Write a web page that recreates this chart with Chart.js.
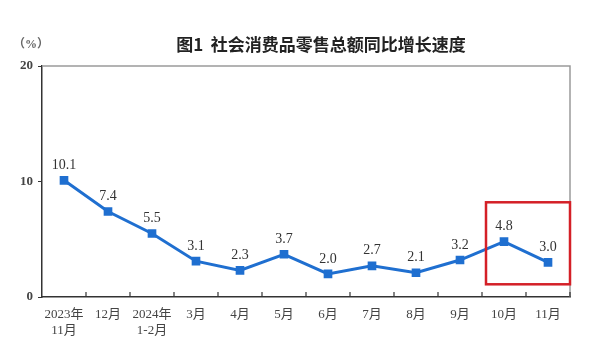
<!DOCTYPE html>
<html lang="zh">
<head>
    <meta charset="UTF-8">
    <title>社会消费品零售总额同比增长速度</title>
    <script src="https://cdn.jsdelivr.net/npm/chart.js"></script>
    <style>
        html, body { margin: 0; padding: 0; background: #fff; }
        .wrap { width: 593px; height: 352px; position: relative; }
    </style>
</head>
<body>
    <div class="wrap">
        <canvas id="myChart" width="593" height="352"></canvas>
    </div>

    <script>
        // data
        const months = [['2023年', '11月'], '12月', ['2024年', '1-2月'], '3月', '4月', '5月', '6月', '7月', '8月', '9月', '10月', '11月'];
        const growth = [10.1, 7.4, 5.5, 3.1, 2.3, 3.7, 2.0, 2.7, 2.1, 3.2, 4.8, 3.0];
        const yTicks = [0, 10, 20];
        const titleText = '图1  社会消费品零售总额同比增长速度';
        const unitText = '（%）';
        // highlight box: from category 10月 to the right edge, value range in %
        const boxFrom = 10;
        const boxTop = 8.2;
        const boxBottom = 1.1;

        const serif = "'Liberation Serif', 'Noto Sans CJK SC', serif";
        const blue = '#1f6fd0';

        // frame, inner ticks, value labels, title, highlight box
        const decor = {
            id: 'decor',
            afterDraw(chart) {
                const c = chart.ctx;
                const a = chart.chartArea;
                const xs = chart.scales.x;
                const ys = chart.scales.y;
                c.save();

                // grey top and right border
                c.strokeStyle = '#9a9a9a';
                c.lineWidth = 1.5;
                c.beginPath();
                c.moveTo(a.left, a.top);
                c.lineTo(a.right, a.top);
                c.lineTo(a.right, a.bottom);
                c.stroke();

                // tick marks on x axis pointing up, between categories
                c.strokeStyle = '#333';
                c.lineWidth = 1.2;
                const n = months.length;
                const step = xs.getPixelForTick(1) - xs.getPixelForTick(0);
                for (let i = 1; i <= n; i++) {
                    const px = xs.getPixelForTick(i - 1) + step / 2;
                    c.beginPath();
                    c.moveTo(px, a.bottom);
                    c.lineTo(px, a.bottom - 5);
                    c.stroke();
                }

                // value labels
                const meta = chart.getDatasetMeta(0);
                c.fillStyle = '#333';
                c.font = '14px ' + serif;
                c.textAlign = 'center';
                c.textBaseline = 'bottom';
                meta.data.forEach((pt, i) => {
                    c.fillText(growth[i].toFixed(1), pt.x, pt.y - 8);
                });

                // highlight box
                const bx0 = xs.getPixelForTick(boxFrom) - step / 2 + 4;
                c.strokeStyle = '#d42027';
                c.lineWidth = 2.5;
                c.strokeRect(bx0, ys.getPixelForValue(boxTop), a.right - bx0, ys.getPixelForValue(boxBottom) - ys.getPixelForValue(boxTop));

                // title and unit
                c.fillStyle = '#222';
                c.font = "bold 17px 'Noto Sans CJK SC', sans-serif";
                c.textBaseline = 'middle';
                c.textAlign = 'center';
                c.fillText(titleText, 321, 45);
                c.fillStyle = '#666';
                c.font = 'bold 12px ' + serif;
                c.textAlign = 'center';
                c.fillText(unitText, 31, 45);
                c.restore();
            }
        };

        const ctx = document.getElementById('myChart').getContext('2d');
        const chart = new Chart(ctx, {
            type: 'line',
            data: {
                labels: months,
                datasets: [{
                    data: growth,
                    borderColor: blue,
                    backgroundColor: blue,
                    borderWidth: 3,
                    pointStyle: 'rect',
                    pointRadius: 4,
                    pointHoverRadius: 4,
                    tension: 0
                }]
            },
            options: {
                responsive: false,
                animation: false,
                layout: { padding: { top: 66, right: 23, left: 0, bottom: 0 } },
                plugins: {
                    legend: { display: false },
                    tooltip: { enabled: false }
                },
                scales: {
                    x: {
                        offset: true,
                        afterFit: s => { s.height = 55; },
                        grid: { display: false, offset: true },
                        border: { display: true, color: '#333', width: 1.5 },
                        ticks: {
                            color: '#444',
                            font: { family: serif, size: 13 },
                            maxRotation: 0,
                            autoSkip: false,
                            padding: 2
                        }
                    },
                    y: {
                        min: 0,
                        max: 20,
                        afterFit: s => { s.width = 42; },
                        afterBuildTicks: s => { s.ticks = yTicks.map(v => ({ value: v })); },
                        grid: { drawOnChartArea: false, drawTicks: true, tickLength: 4, color: '#333' },
                        border: { display: true, color: '#333', width: 1.5 },
                        ticks: {
                            color: '#444',
                            font: { family: serif, size: 13, weight: 'bold' },
                            padding: 5
                        }
                    }
                }
            },
            plugins: [decor]
        });
    </script>
</body>
</html>
